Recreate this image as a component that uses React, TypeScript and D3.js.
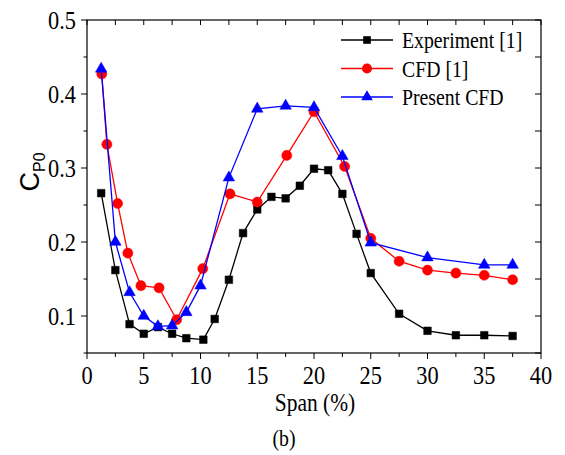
import React from "react";
import * as d3 from "d3";

const expX = [1.25, 2.5, 3.75, 5, 6.25, 7.5, 8.75, 10.25, 11.25, 12.5, 13.75, 15, 16.25, 17.5, 18.75, 20, 21.25, 22.5, 23.75, 25, 27.5, 30, 32.5, 35, 37.5];
const expY = [0.266, 0.162, 0.089, 0.076, 0.085, 0.076, 0.070, 0.068, 0.096, 0.149, 0.212, 0.244, 0.261, 0.259, 0.276, 0.299, 0.297, 0.265, 0.211, 0.158, 0.103, 0.080, 0.074, 0.074, 0.073];

const cfdX = [1.3, 1.75, 2.7, 3.6, 4.75, 6.35, 7.9, 10.2, 12.6, 15, 17.6, 20, 22.7, 25, 27.5, 30, 32.5, 35, 37.5];
const cfdY = [0.427, 0.332, 0.252, 0.185, 0.141, 0.138, 0.095, 0.164, 0.265, 0.254, 0.317, 0.376, 0.302, 0.205, 0.174, 0.162, 0.158, 0.155, 0.149];

const presX = [1.25, 2.5, 3.75, 5, 6.25, 7.5, 8.75, 10, 12.5, 15, 17.5, 20, 22.5, 25, 30, 35, 37.5];
const presY = [0.434, 0.200, 0.132, 0.100, 0.086, 0.087, 0.105, 0.141, 0.287, 0.380, 0.384, 0.382, 0.316, 0.199, 0.179, 0.169, 0.169];

const xTickLabels = ["0", "5", "10", "15", "20", "25", "30", "35", "40"];
const yTickLabels = ["0.1", "0.2", "0.3", "0.4", "0.5"];
const seriesNames = ["Experiment [1]", "CFD [1]", "Present CFD"];
const seriesColors = ["#000000", "#ff0000", "#0000ff"];

const W = 565, H = 455;
const L = 87, R = 541, T = 20, B = 353;
const SERIF = "'Liberation Serif', 'Times New Roman', serif";
const SX = 0.86;

export default function App() {
  const x = d3.scaleLinear().domain([0, 40]).range([L, R]);
  const y = d3.scaleLinear().domain([0.05, 0.5]).range([B, T]);

  const series = [
    { name: seriesNames[0], xs: expX, ys: expY, color: seriesColors[0], sym: d3.symbolSquare, size: 58 },
    { name: seriesNames[1], xs: cfdX, ys: cfdY, color: seriesColors[1], sym: d3.symbolCircle, size: 80 },
    { name: seriesNames[2], xs: presX, ys: presY, color: seriesColors[2], sym: d3.symbolTriangle, size: 58 },
  ];

  const line = d3.line<[number, number]>().x((d) => x(d[0])).y((d) => y(d[1]));

  const xMinor = d3.range(0, 40.01, 2.5);
  const yMinor = d3.range(0.05, 0.501, 0.05);
  const xMajor = xTickLabels.map(Number);
  const yMajor = yTickLabels.map(Number);

  const stxt = (tx: number, ty: number) => `translate(${tx},${ty}) scale(${SX},1)`;

  return (
    <svg width={W} height={H} style={{ position: "absolute", left: 0, top: 0, background: "#fff" }}>
      <rect x={0} y={0} width={W} height={H} fill="#fff" />
      {/* frame */}
      <rect x={L} y={T} width={R - L} height={B - T} fill="none" stroke="#000" strokeWidth={1.2} />
      {/* bottom ticks (outward) */}
      {xMinor.map((v, i) => {
        const major = Math.abs(v / 5 - Math.round(v / 5)) < 1e-6;
        return <line key={"bx" + i} x1={x(v)} x2={x(v)} y1={B} y2={B + (major ? 6 : 4)} stroke="#000" strokeWidth={1} />;
      })}
      {/* top ticks (inward) */}
      {xMinor.map((v, i) => (
        <line key={"tx" + i} x1={x(v)} x2={x(v)} y1={T} y2={T + 5} stroke="#000" strokeWidth={1} />
      ))}
      {/* left ticks (outward) */}
      {yMinor.map((v, i) => {
        const major = Math.abs(v * 10 - Math.round(v * 10)) < 1e-6;
        return <line key={"ly" + i} x1={L} x2={L - (major ? 6 : 3.5)} y1={y(v)} y2={y(v)} stroke="#000" strokeWidth={1} />;
      })}
      {/* right ticks (inward) */}
      {yMinor.map((v, i) => (
        <line key={"ry" + i} x1={R} x2={R - 6} y1={y(v)} y2={y(v)} stroke="#000" strokeWidth={1} />
      ))}
      {/* x tick labels */}
      {xMajor.map((v, i) => (
        <text key={"xl" + i} transform={stxt(x(v), 384)} textAnchor="middle" fontFamily={SERIF} fontSize={26} fill="#000">
          {xTickLabels[i]}
        </text>
      ))}
      {/* y tick labels */}
      {yMajor.map((v, i) => (
        <text key={"yl" + i} transform={stxt(76, y(v) + 9)} textAnchor="end" fontFamily={SERIF} fontSize={26} fill="#000">
          {yTickLabels[i]}
        </text>
      ))}
      {/* axis titles */}
      <text transform={stxt((L + R) / 2 + 1, 411)} textAnchor="middle" fontFamily={SERIF} fontSize={25} fill="#000">
        Span (%)
      </text>
      <text transform="translate(39,172) rotate(-90)" textAnchor="middle" fontFamily="'Liberation Sans', Arial, sans-serif" fontSize={27} fill="#000">
        C<tspan fontSize={16} dy={6}>P0</tspan>
      </text>
      <text transform={stxt(284, 446)} textAnchor="middle" fontFamily={SERIF} fontSize={23} fill="#000">
        (b)
      </text>
      {/* series */}
      {series.map((s, si) => {
        const pts: [number, number][] = s.xs.map((xv, i) => [xv, s.ys[i]]);
        const sym = d3.symbol().type(s.sym).size(s.size)();
        return (
          <g key={"s" + si}>
            <path d={line(pts) || ""} fill="none" stroke={s.color} strokeWidth={1.3} />
            {pts.map((p, i) => (
              <path key={i} d={sym || ""} transform={`translate(${x(p[0])},${y(p[1])})`} fill={s.color} stroke={s.color} strokeWidth={0.5} />
            ))}
          </g>
        );
      })}
      {/* legend */}
      {series.map((s, si) => {
        const ly = 40 + si * 28.5;
        const sym = d3.symbol().type(s.sym).size(s.size)();
        return (
          <g key={"lg" + si}>
            <line x1={341} x2={393} y1={ly} y2={ly} stroke={s.color} strokeWidth={1.3} />
            <path d={sym || ""} transform={`translate(367,${ly})`} fill={s.color} />
            <text transform={stxt(402, ly + 8)} fontFamily={SERIF} fontSize={23} fill="#000">
              {s.name}
            </text>
          </g>
        );
      })}
    </svg>
  );
}
